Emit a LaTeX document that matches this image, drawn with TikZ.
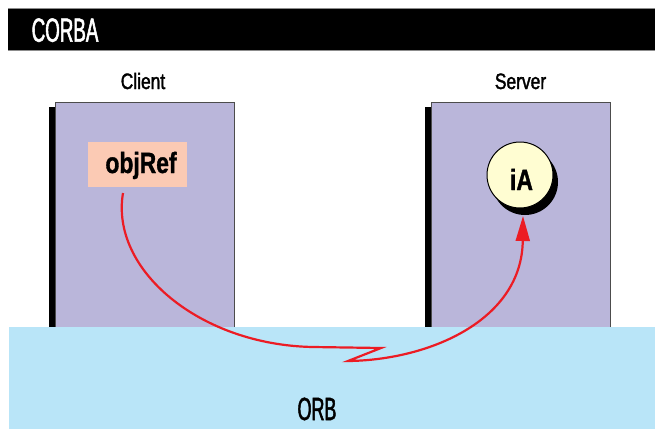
\documentclass[tikz,border=0pt]{standalone}
\usepackage{fontspec}
\usetikzlibrary{arrows.meta}
% condensed sans faces for the labels
\newfontfamily\capsfont{Liberation Sans}[FakeStretch=0.56,FakeBold=1.6]
\newfontfamily\labelfont{Liberation Sans}[FakeStretch=0.78,FakeBold=1.6]
\newfontfamily\boldfont{Liberation Sans Bold}[FakeStretch=0.78,FakeBold=1.2]

\definecolor{barblack}{HTML}{000000}
\definecolor{hostfill}{HTML}{BAB6DA}
\definecolor{orbfill}{HTML}{B9E5F8}
\definecolor{reffill}{HTML}{FBCAB4}
\definecolor{objfill}{HTML}{FFFDD2}
\definecolor{callred}{HTML}{EC1C24}

\tikzset{
  hostbox/.style={draw=black!70, line width=0.8pt, fill=hostfill},
  hostedge/.style={fill=black},
  txt/.style={inner sep=0pt, anchor=base},
  call/.style={draw=callred, line width=2.2pt,
    -{Triangle[length=25pt,width=14pt]}, line join=miter},
}

\begin{document}
\begin{tikzpicture}[x=1pt,y=-1pt]
\useasboundingbox (0,0) rectangle (655,429);

% title bar
\fill[barblack] (8,8) rectangle (655,50);
\draw[black!45, line width=0.6pt] (8,8) -- (655,8) (8,50) -- (655,50);
\node[txt, anchor=base west, text=white, font=\capsfont\fontsize{33.5}{36}\selectfont] (title) at (31.5,41.7) {CORBA};

% client and server processes
\fill[hostedge] (49,107) rectangle (55,327);
\path[hostbox] (55,102) rectangle (234.5,327);
\fill[hostedge] (425,107) rectangle (431,327);
\path[hostbox] (431,102) rectangle (610.5,327);

\node[txt, font=\labelfont\fontsize{22.3}{24}\selectfont] (client) at (143,89) {Client};
\node[txt, font=\labelfont\fontsize{22.3}{24}\selectfont] (server) at (520.5,89) {Server};

% ORB layer
\fill[orbfill] (9,327) rectangle (655,429);
\node[txt, font=\capsfont\fontsize{32}{34}\selectfont] (orb) at (317,420) {ORB};

% object reference
\fill[reffill] (88,142) rectangle (187,187);
\node[txt, font=\boldfont\fontsize{29.3}{31}\selectfont] (objref) at (141,173) {objRef};

% remote object
\fill[black] (525,182) circle (33);
\draw[fill=objfill, line width=1pt] (520,175) circle (33);
\node[txt, font=\boldfont\fontsize{29.3}{31}\selectfont] (ia) at (521.5,190) {iA};

% invocation path through the ORB
\coordinate (callstart) at (123,193);
\coordinate (callend) at (523,216);
\draw[call] (callstart) .. controls (110,270) and (200,345) .. (313,347)
  -- (381,348) -- (348,361)
  .. controls (430,360) and (522,320) .. (callend);
\end{tikzpicture}
\end{document}
